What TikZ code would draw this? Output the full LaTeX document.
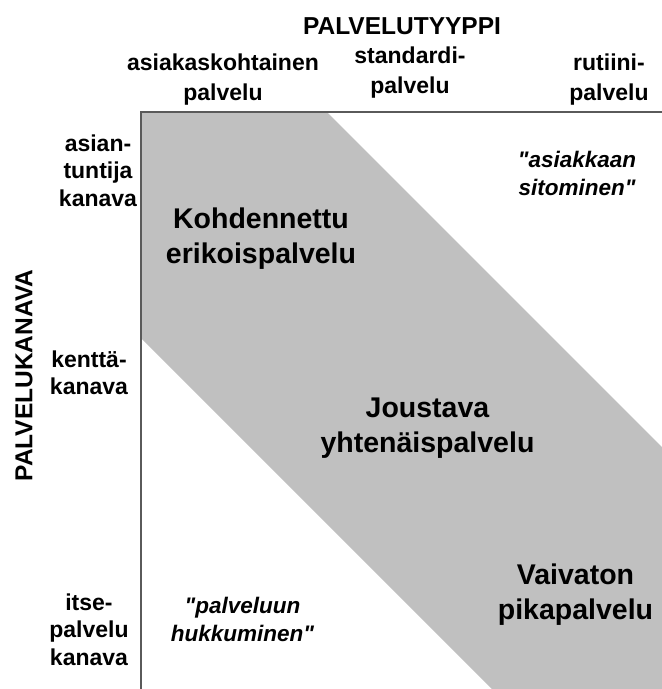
\documentclass[tikz,border=0pt]{standalone}
\usepackage{fontspec}
\setmainfont{Liberation Sans}[Ligatures=TeXOff]
\newcommand{\mlines}[1]{\begin{tabular}[t]{@{}c@{}}#1\end{tabular}}
\definecolor{bandgray}{HTML}{C0C0C0}
\definecolor{axisgray}{HTML}{5A5A5A}
\begin{document}
\begin{tikzpicture}[x=1pt,y=-1pt,
  lab/.style={inner sep=0pt, anchor=base},
  title/.style={lab, font=\fontsize{24.5}{29}\selectfont\bfseries},
  colhead/.style={lab, font=\fontsize{23}{30.5}\selectfont\bfseries},
  rowhead/.style={lab, font=\fontsize{23}{27.7}\selectfont\bfseries},
  big/.style={lab, font=\fontsize{28.5}{35}\selectfont\bfseries},
  quot/.style={lab, font=\fontsize{22.5}{28.5}\selectfont\bfseries\itshape},
  axis/.style={draw=axisgray, line width=1.3pt},
  band/.style={fill=bandgray}]
\useasboundingbox (0,0) rectangle (662,689);
% corners of the grid
\coordinate (O) at (141,112);
\coordinate (TR) at (662,112);
\coordinate (BL) at (141,689);
% gray diagonal band
\fill[band] (O) -- (327,112) -- (662,447) -- (662,689) -- (492,689) -- (141,338) -- cycle;
% axes
\draw[axis] (BL) -- (O) -- (TR);
% titles
\node[title] (ttype) at (402,34) {PALVELUTYYPPI};
\node[title, rotate=90, anchor=center] (tchan) at (24,375.5) {PALVELUKANAVA};
% column headings
\node[colhead] (c1) at (223,70) {\mlines{asiakaskohtainen\\palvelu}};
\node[colhead] (c2) at (410,63) {\mlines{standardi-\\palvelu}};
\node[colhead] (c3) at (609,70) {\mlines{rutiini-\\palvelu}};
% row headings
\node[rowhead] (r1) at (98,151) {\mlines{asian-\\tuntija\\kanava}};
\node[rowhead] (r2) at (89,367) {\mlines{kenttä-\\kanava}};
\node[rowhead] (r3) at (89,610) {\mlines{itse-\\palvelu\\kanava}};
% band labels
\node[big] (k) at (261,228) {\mlines{Kohdennettu\\erikoispalvelu}};
\node[big] (j) at (427.5,417) {\mlines{Joustava\\yhtenäispalvelu}};
\node[big] (v) at (575.5,584) {\mlines{Vaivaton\\pikapalvelu}};
% quoted labels
\node[quot] (qa) at (577,167) {\mlines{"asiakkaan\\sitominen"}};
\node[quot] (qp) at (242.5,613) {\mlines{"palveluun\\hukkuminen"}};
\end{tikzpicture}
\end{document}
